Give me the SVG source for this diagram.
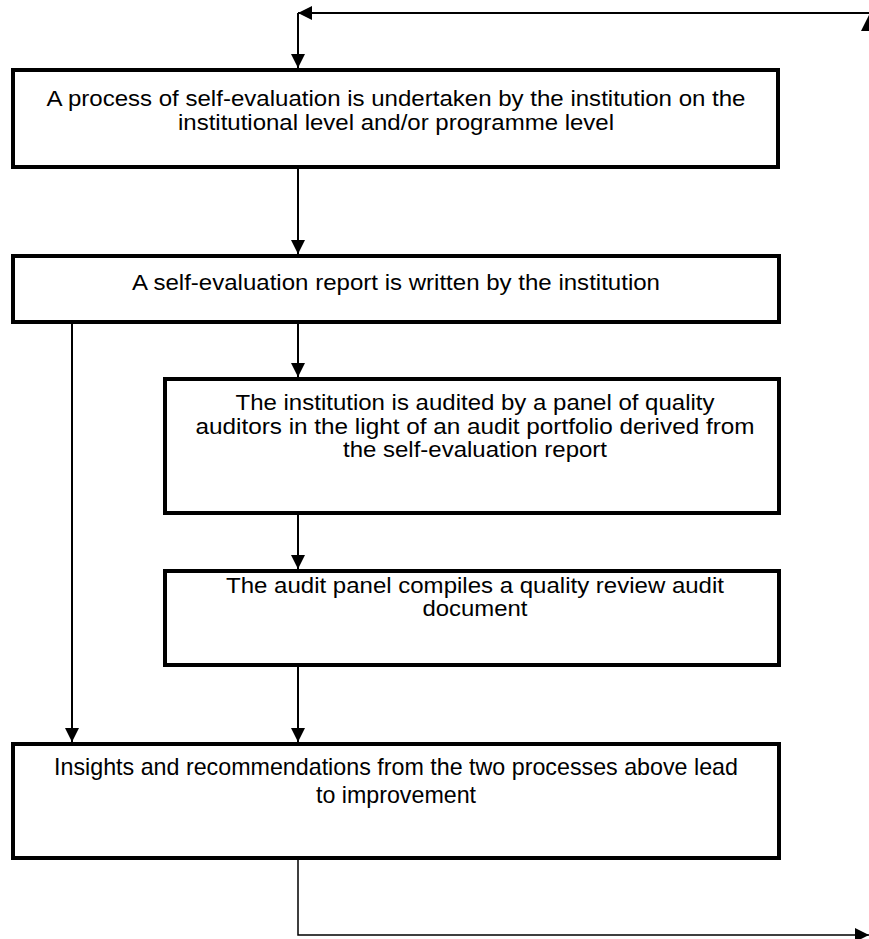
<svg xmlns="http://www.w3.org/2000/svg" width="869" height="939" viewBox="0 0 869 939">
  <defs>
    <style>
      .box { fill: #ffffff; stroke: #000000; stroke-width: 4; }
      .lbl { font-family: "Liberation Sans", Arial, sans-serif; font-size: 22px; fill: #000000; text-anchor: middle; }
      .narrow { font-family: "Liberation Sans", Arial, sans-serif; font-size: 24px; fill: #000000; text-anchor: middle; }
      .conn { fill: none; stroke: #000000; stroke-width: 2; }
      .thin { fill: none; stroke: #000000; stroke-width: 1.5; }
    </style>
    <marker id="arrow" markerUnits="userSpaceOnUse" markerWidth="14" markerHeight="14" refX="14" refY="7" orient="auto">
      <path d="M0,0 L14,7 L0,14 z" fill="#000000"/>
    </marker>
  </defs>

  <!-- process steps -->
  <g id="self-evaluation">
    <rect class="box" x="13" y="70" width="765" height="97"/>
    <text class="lbl" x="396" y="106" textLength="699" lengthAdjust="spacingAndGlyphs">A process of self-evaluation is undertaken by the institution on the</text>
    <text class="lbl" x="396" y="130" textLength="436" lengthAdjust="spacingAndGlyphs">institutional level and/or programme level</text>
  </g>

  <g id="report">
    <rect class="box" x="13" y="256" width="766" height="66"/>
    <text class="lbl" x="396" y="290" textLength="528" lengthAdjust="spacingAndGlyphs">A self-evaluation report is written by the institution</text>
  </g>

  <g id="audit">
    <rect class="box" x="165" y="379" width="614" height="134"/>
    <text class="lbl" x="475" y="410" textLength="479" lengthAdjust="spacingAndGlyphs">The institution is audited by a panel of quality</text>
    <text class="lbl" x="475" y="434" textLength="559" lengthAdjust="spacingAndGlyphs">auditors in the light of an audit portfolio derived from</text>
    <text class="lbl" x="475" y="457" textLength="264" lengthAdjust="spacingAndGlyphs">the self-evaluation report</text>
  </g>

  <g id="audit-document">
    <rect class="box" x="165" y="571" width="614" height="94"/>
    <text class="lbl" x="475" y="593" textLength="498" lengthAdjust="spacingAndGlyphs">The audit panel compiles a quality review audit</text>
    <text class="lbl" x="475" y="616" textLength="105" lengthAdjust="spacingAndGlyphs">document</text>
  </g>

  <g id="improvement">
    <rect class="box" x="13" y="744" width="766" height="114"/>
    <text class="narrow" x="396" y="775" textLength="684" lengthAdjust="spacingAndGlyphs">Insights and recommendations from the two processes above lead</text>
    <text class="narrow" x="396" y="803" textLength="160" lengthAdjust="spacingAndGlyphs">to improvement</text>
  </g>

  <!-- connectors -->
  <g id="connectors">
    <!-- feedback loop entering from the top right -->
    <path class="conn" d="M869,13 H298" marker-end="url(#arrow)"/>
    <path class="conn" d="M298,13 V68" marker-end="url(#arrow)"/>
    <polygon points="869,15 861,31 877,31" fill="#000000"/>

    <path class="conn" d="M298,169 V254" marker-end="url(#arrow)"/>
    <path class="conn" d="M298,324 V377" marker-end="url(#arrow)"/>
    <path class="conn" d="M72,324 V742" marker-end="url(#arrow)"/>
    <path class="conn" d="M298,515 V569" marker-end="url(#arrow)"/>
    <path class="conn" d="M298,667 V742" marker-end="url(#arrow)"/>

    <!-- outgoing loop at the bottom -->
    <path class="thin" d="M298,860 V935 H869" marker-end="url(#arrow)"/>
  </g>
</svg>
